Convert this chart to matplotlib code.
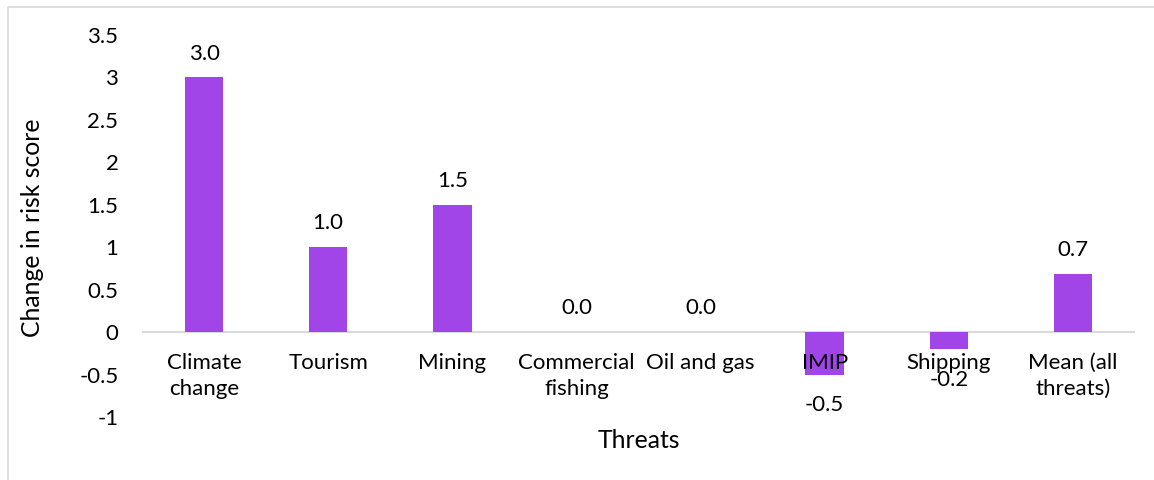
import matplotlib
matplotlib.use("Agg")
import matplotlib.pyplot as plt
from matplotlib.patches import Rectangle

threats = ["Climate\nchange", "Tourism", "Mining", "Commercial\nfishing",
           "Oil and gas", "IMIP", "Shipping", "Mean (all\nthreats)"]
risk_change = [3.0, 1.0, 1.5, 0.0, 0.0, -0.5, -0.2, 0.686]
y_ticks = [-1, -0.5, 0, 0.5, 1, 1.5, 2, 2.5, 3, 3.5]
y_tick_labels = ["-1", "-0.5", "0", "0.5", "1", "1.5", "2", "2.5", "3", "3.5"]

BAR_COLOR = "#A145E9"
GRID_GRAY = "#D9D9D9"
FS = 16
TITLE_FS = 17.8

plt.rcParams["font.family"] = ["Lato", "DejaVu Sans"]

fig = plt.figure(figsize=(11.54, 4.8), dpi=100)
ax = fig.add_axes([142 / 1154, 1 - 417 / 480, (1135 - 142) / 1154, (417 - 35) / 480])

x = list(range(len(threats)))
ax.bar(x, risk_change, width=0.31, color=BAR_COLOR, zorder=3)
ax.axhline(0, color=GRID_GRAY, linewidth=1.5, zorder=2)

# value labels at the outer end of each bar
for xi, v in zip(x, risk_change):
    if v >= 0:
        ax.annotate(f"{v:.1f}", (xi, v), xytext=(0, 10), textcoords="offset points",
                    ha="center", va="bottom", fontsize=FS, zorder=4)
    else:
        ax.annotate(f"{v:.1f}", (xi, v), xytext=(0, -15), textcoords="offset points",
                    ha="center", va="top", fontsize=FS, zorder=4)

# category labels hang just under the zero line
for xi, name in zip(x, threats):
    ax.annotate(name, (xi, 0), xytext=(0, -15), textcoords="offset points",
                ha="center", va="top", fontsize=FS, linespacing=1.4, zorder=4)

ax.set_xlim(-0.5, len(threats) - 0.5)
ax.set_ylim(-1, 3.5)
ax.set_yticks(y_ticks)
ax.set_yticklabels(y_tick_labels, fontsize=FS)
ax.set_xticks([])
ax.tick_params(axis="y", length=0, pad=17)
for s in ax.spines.values():
    s.set_visible(False)

fig.text(33 / 1154, 1 - 228 / 480, "Change in risk score", rotation=90,
         ha="center", va="center", fontsize=TITLE_FS)
fig.text(639 / 1154, 1 - 440 / 480, "Threats", ha="center", va="center", fontsize=TITLE_FS)

# chart frame
fig.patches.append(Rectangle((8 / 1154, -0.1), 1.2, 1 - 7 / 480 + 0.1, transform=fig.transFigure,
                             fill=False, edgecolor=GRID_GRAY, linewidth=1.2))

fig.savefig("out.png", dpi=100)
